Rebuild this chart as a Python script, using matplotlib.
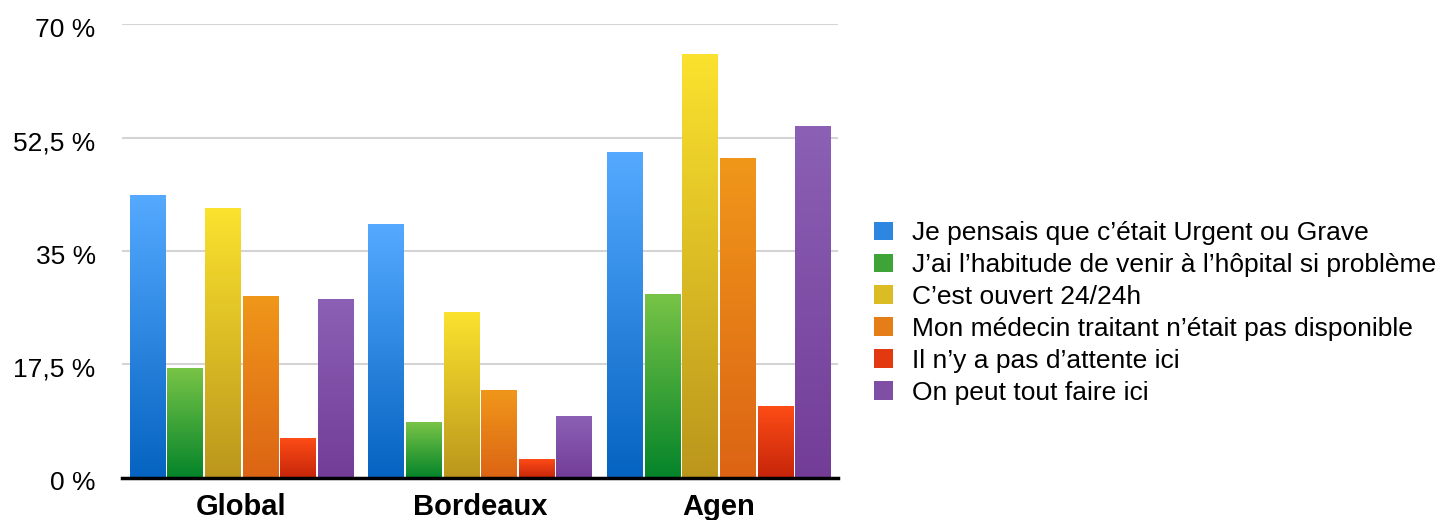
import matplotlib
matplotlib.use('Agg')
import numpy as np
from matplotlib import pyplot as plt
from matplotlib import transforms
from matplotlib.colors import LinearSegmentedColormap
from matplotlib.patches import Patch

plt.rcParams['font.family'] = ['Liberation Sans', 'DejaVu Sans']

groups = ['Global', 'Bordeaux', 'Agen']
reasons = [
    'Je pensais que c\u2019était Urgent ou Grave',
    'J\u2019ai l\u2019habitude de venir à l\u2019hôpital si problème',
    'C\u2019est ouvert 24/24h',
    'Mon médecin traitant n\u2019était pas disponible',
    'Il n\u2019y a pas d\u2019attente ici',
    'On peut tout faire ici',
]
urgent = [43.6, 39.2, 50.3]
habitude = [16.9, 8.6, 28.3]
ouvert = [41.6, 25.6, 65.4]
medecin = [28.0, 13.5, 49.3]
attente = [6.1, 2.9, 11.1]
tout = [27.6, 9.5, 54.3]
series = [urgent, habitude, ouvert, medecin, attente, tout]

yticks = [0, 17.5, 35, 52.5, 70]
ytick_labels = ['0 %', '17,5 %', '35 %', '52,5 %', '70 %']

# (top, bottom) colours of each gradient
grads = [
    ('#55aaff', '#0563c1'),
    ('#78c446', '#04842a'),
    ('#fbe22e', '#bb961c'),
    ('#f0971a', '#dc6414'),
    ('#fd4c16', '#c6250a'),
    ('#8b60b5', '#733d97'),
]

fig = plt.figure(figsize=(14.44, 5.2), dpi=100)
ax = fig.add_axes([0.0845, 0.0815, 0.4958, 0.8715])

x = np.arange(len(groups))
step = 0.1576
width = 0.147
grad = np.linspace(0, 1, 256).reshape(-1, 1)

for i, vals in enumerate(series):
    top, bottom = grads[i]
    cmap = LinearSegmentedColormap.from_list('g%d' % i, [bottom, top])
    bars = ax.bar(x + (i - 2.5) * step, vals, width, color=top, zorder=2)
    for b in bars:
        x0, w, h = b.get_x(), b.get_width(), b.get_height()
        ax.imshow(grad, extent=[x0, x0 + w, 0, h], origin='lower', cmap=cmap,
                  aspect='auto', zorder=3, interpolation='bilinear')

ax.set_xlim(-0.5, 2.5)
ax.set_ylim(0, 70)
ax.set_yticks(yticks)
ax.set_yticklabels(ytick_labels)
ax.set_xticks(x)
ax.set_xticklabels(groups, fontweight='bold', fontsize=21)
ax.tick_params(axis='y', length=0, pad=19, labelsize=19)
ax.tick_params(axis='x', length=0, pad=11)
# labels sit a little below their gridline in the original
off = transforms.ScaledTranslation(0, -3 / 100, fig.dpi_scale_trans)
for lab in ax.get_yticklabels():
    lab.set_transform(lab.get_transform() + off)
ax.yaxis.grid(True, color='#d4d4d4', linewidth=1.5)
ax.set_axisbelow(True)
for s in ['top', 'right', 'left']:
    ax.spines[s].set_visible(False)
ax.spines['bottom'].set_linewidth(2.5)
ax.spines['bottom'].set_color('black')
ax.spines['bottom'].set_zorder(5)

handles = [Patch(facecolor=LinearSegmentedColormap.from_list('h', [g[1], g[0]])(0.5))
           for g in grads]
fig.legend(handles, reasons, loc='center left', bbox_to_anchor=(0.605, 0.398),
           frameon=False, fontsize=19, handlelength=0.72, handleheight=0.72,
           handletextpad=0.75, labelspacing=0.3, borderpad=0, borderaxespad=0)

fig.savefig('out.png', dpi=100)
